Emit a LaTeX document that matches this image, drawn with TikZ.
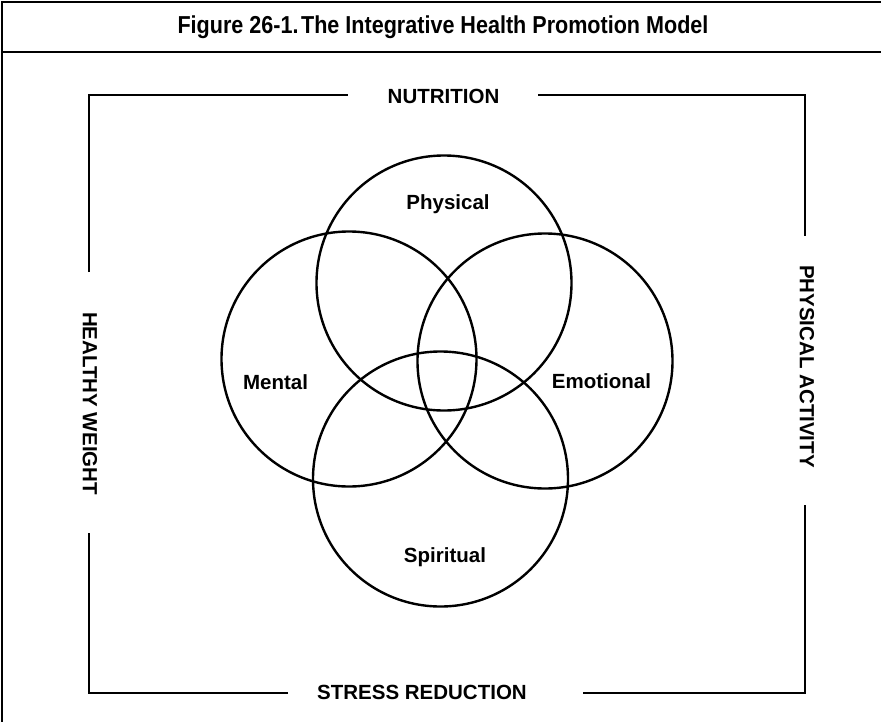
\documentclass[tikz,border=0pt]{standalone}
\usepackage{fontspec}
\setmainfont{Liberation Sans}
\begin{document}
\begin{tikzpicture}[x=1pt,y=-1pt,
  frameline/.style={line width=2.6pt, line cap=rect},
  bracketline/.style={line width=2.8pt},
  ring/.style={circle, draw, line width=2.4pt, minimum size=255pt, inner sep=0pt},
  lbl/.style={inner sep=0pt, font=\fontsize{20.5}{24}\selectfont\bfseries},
  sidelbl/.style={lbl, rotate=-90},
  titlelbl/.style={inner sep=0pt, font=\fontsize{24.5}{28}\selectfont\bfseries}]
\useasboundingbox (0,0) rectangle (881,721);
% outer frame
\coordinate (fTL) at (2,2);
\coordinate (fTR) at (881,2);
\coordinate (fBL) at (2,721);
\coordinate (sL) at (2,52);
\coordinate (sR) at (881,52);
\draw[frameline] (fBL) -- (fTL) -- (fTR);
\draw[frameline] (sL) -- (sR);
\node[titlelbl] (title) at (443,27) {\scalebox{0.88}[1]{Figure 26-1.\hspace{0.12em}The Integrative Health Promotion Model}};
% bracket corners and gap ends
\coordinate (tl) at (89,95);
\coordinate (tr) at (805,95);
\coordinate (bl) at (89,693);
\coordinate (br) at (805,693);
\coordinate (t1) at (348,95);
\coordinate (t2) at (538,95);
\coordinate (r1) at (805,236);
\coordinate (r2) at (805,505);
\coordinate (b1) at (583,693);
\coordinate (b2) at (288,693);
\coordinate (l1) at (89,533);
\coordinate (l2) at (89,272);
\draw[bracketline] (l2) -- (tl) -- (t1);
\draw[bracketline] (t2) -- (tr) -- (r1);
\draw[bracketline] (r2) -- (br) -- (b1);
\draw[bracketline] (b2) -- (bl) -- (l1);
\node[lbl] (nut) at (443.5,96) {NUTRITION};
\node[lbl] (stress) at (422,692) {STRESS REDUCTION};
\node[sidelbl] (weight) at (90,403.5) {HEALTHY WEIGHT};
\node[sidelbl] (activity) at (807,366.5) {PHYSICAL ACTIVITY};
% circles
\node[ring] (cphys) at (444,283) {};
\node[ring] (cment) at (349,359) {};
\node[ring] (cemo) at (545,361) {};
\node[ring] (cspir) at (440.5,479) {};
\node[lbl] (lphys) at (448,204) {Physical};
\node[lbl] (lment) at (275.5,382) {Mental};
\node[lbl] (lemo) at (601.5,381) {Emotional};
\node[lbl] (lspir) at (445,557) {Spiritual};
\end{tikzpicture}
\end{document}
